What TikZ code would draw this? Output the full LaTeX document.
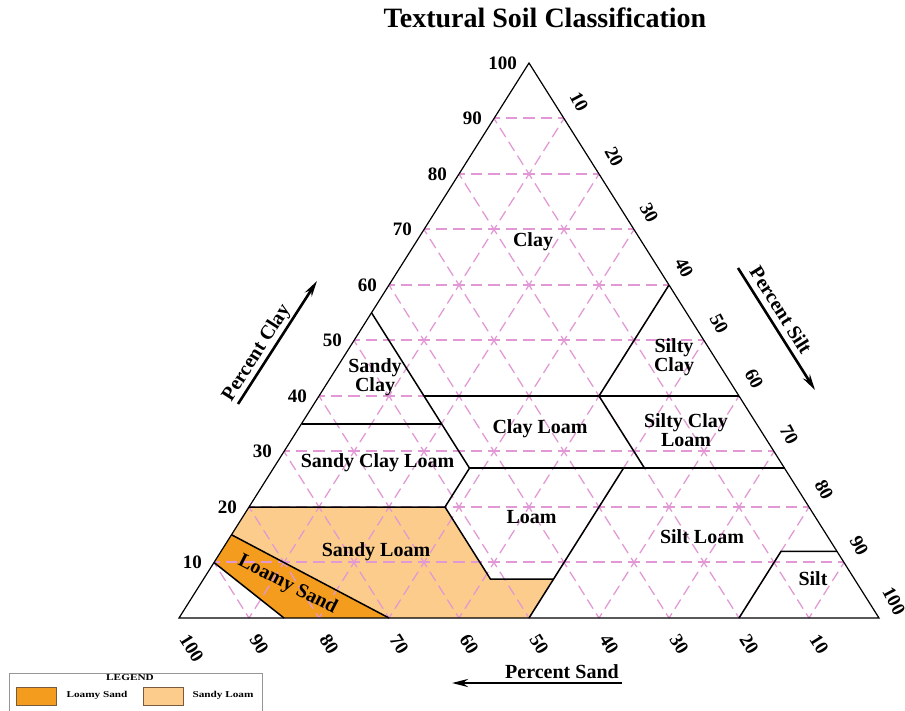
\documentclass[tikz,border=0pt]{standalone}
\usepackage{fontspec}
\setmainfont{Liberation Serif}
\usetikzlibrary{arrows.meta}
\definecolor{gridpink}{RGB}{226,152,212}
\definecolor{loamysand}{RGB}{243,156,30}
\definecolor{sandyloam}{RGB}{252,204,140}
\tikzset{
  gridh/.style={draw=gridpink,line width=1.3pt,dash pattern=on 11.5pt off 6pt,dash phase=5.75pt},
  gridd/.style={draw=gridpink,line width=1.25pt,dash pattern=on 10.8pt off 5.6pt,dash phase=5.4pt},
  regionline/.style={draw=black,line width=1.5pt,line join=miter},
  lbl/.style={font=\fontsize{20}{15.5}\selectfont\bfseries,align=center,inner sep=0pt},
  ticklbl/.style={font=\fontsize{19}{19}\selectfont\bfseries,inner sep=0pt},
  axtitle/.style={font=\fontsize{20}{20}\selectfont\bfseries,inner sep=0pt},
  axarrow/.style={line width=2.6pt,-{Stealth[length=16pt,width=8pt]}},
  legtext/.style={font=\fontsize{9}{9}\selectfont\bfseries,inner sep=0pt,xscale=1.25},
  swatch/.style={draw={rgb,255:red,120;green,90;blue,60},line width=0.8pt}
}
\begin{document}
\begin{tikzpicture}[x=1pt,y=-1pt]
\useasboundingbox (0,0) rectangle (905,710);
\fill[white] (0,0) rectangle (905,710);
% title
\node[font=\fontsize{28}{28}\selectfont\bfseries,inner sep=0pt] (title) at (545,18) {Textural Soil Classification};
% ternary chart: (silt, clay)
\begin{scope}[shift={(179,618)},x={(7pt,0pt)},y={(3.5pt,5.55pt)}]
  \fill[sandyloam] (0,20) -- (28,20) -- (41,7) -- (50,7) -- (50,0) -- (30,0) -- (0,15) -- cycle;
  \fill[loamysand] (0,15) -- (30,0) -- (15,0) -- (0,10) -- cycle;
  \foreach \i in {10,20,...,90} {
    \draw[gridd] (\i,0) -- (\i,{100-\i});
    \draw[gridd] ({100-\i},0) -- (0,{100-\i});
  }
\end{scope}
% horizontal grid lines, snapped to whole pixels
\foreach \i in {10,20,...,90} {
  \pgfmathsetmacro\yy{round(618-5.55*\i)}
  \draw[gridh] ({179+3.5*\i},\yy) -- ({879-3.5*\i},\yy);
}
\begin{scope}[shift={(179,618)},x={(7pt,0pt)},y={(3.5pt,5.55pt)}]
  % region boundaries
  \draw[regionline] (0,55) -- (28,27);
  \draw[regionline] (15,40) -- (60,40);
  \draw[regionline] (0,35) -- (20,35);
  \draw[regionline] (40,60) -- (40,40) -- (53,27);
  \draw[regionline] (28,27) -- (73,27);
  \draw[regionline] (28,27) -- (28,20);
  \draw[regionline] (0,20) -- (28,20) -- (41,7) -- (50,7);
  \draw[regionline] (50,27) -- (50,0);
  \draw[regionline] (80,0) -- (80,12) -- (88,12);
  \draw[regionline] (0,15) -- (30,0);
  \draw[regionline] (0,10) -- (15,0);
  \draw[black,line width=1.2pt,line join=miter] (0,0) -- (100,0) -- (0,100) -- cycle;
  % tick labels
  \foreach \i in {10,20,...,100} {
    \path (0,\i) ++(-12pt,0pt) node[ticklbl,anchor=east] (cl\i) {\i};
    \path (\i,{100-\i}) ++(15pt,17pt) node[ticklbl,rotate=-62] (si\i) {\i};
    \path ({100-\i},0) ++(5pt,-18pt) node[ticklbl,rotate=-58,anchor=west] (sa\i) {\i};
  }
\end{scope}
% region labels
\node[lbl] (clay) at (533,242) {Clay};
\node[lbl] (sandyclay) at (375,377) {Sandy\\Clay};
\node[lbl] (siltyclay) at (674,357) {Silty\\Clay};
\node[lbl] (clayloam) at (540,429) {Clay Loam};
\node[lbl] (siltyclayloam) at (686,430) {Silty Clay\\Loam};
\node[lbl] (sandyclayloam) at (377.5,463) {Sandy Clay Loam};
\node[lbl] (loam) at (531.5,517) {Loam};
\node[lbl] (siltloam) at (702,537) {Silt Loam};
\node[lbl] (sandyloam) at (376,552) {Sandy Loam};
\node[lbl] (silt) at (813,579) {Silt};
\node[lbl,rotate=-27] (loamysand) at (287.5,585) {Loamy Sand};
% axis titles and arrows
\coordinate (ca0) at (238,404); \coordinate (ca1) at (317,281);
\draw[axarrow] (ca0) -- (ca1);
\node[axtitle,rotate=57.5] (pclay) at (257,353) {Percent Clay};
\coordinate (sa0) at (738,268); \coordinate (sa1) at (815,390);
\draw[axarrow] (sa0) -- (sa1);
\node[axtitle,rotate=-57.8] (psilt) at (781,310) {Percent Silt};
\coordinate (da0) at (622,683); \coordinate (da1) at (452,683);
\draw[axarrow] (da0) -- (da1);
\node[axtitle] (psand) at (562,672) {Percent Sand};
% legend
\draw[draw={rgb,255:red,150;green,150;blue,150},line width=0.8pt] (9,673) rectangle (262,715);
\node[legtext] (legend) at (130,678) {LEGEND};
\draw[swatch,fill=loamysand] (16,687) rectangle (56,705);
\node[legtext] (leg1) at (97,695) {Loamy Sand};
\draw[swatch,fill=sandyloam] (143,687) rectangle (183,705);
\node[legtext] (leg2) at (223,695) {Sandy Loam};
\end{tikzpicture}
\end{document}
